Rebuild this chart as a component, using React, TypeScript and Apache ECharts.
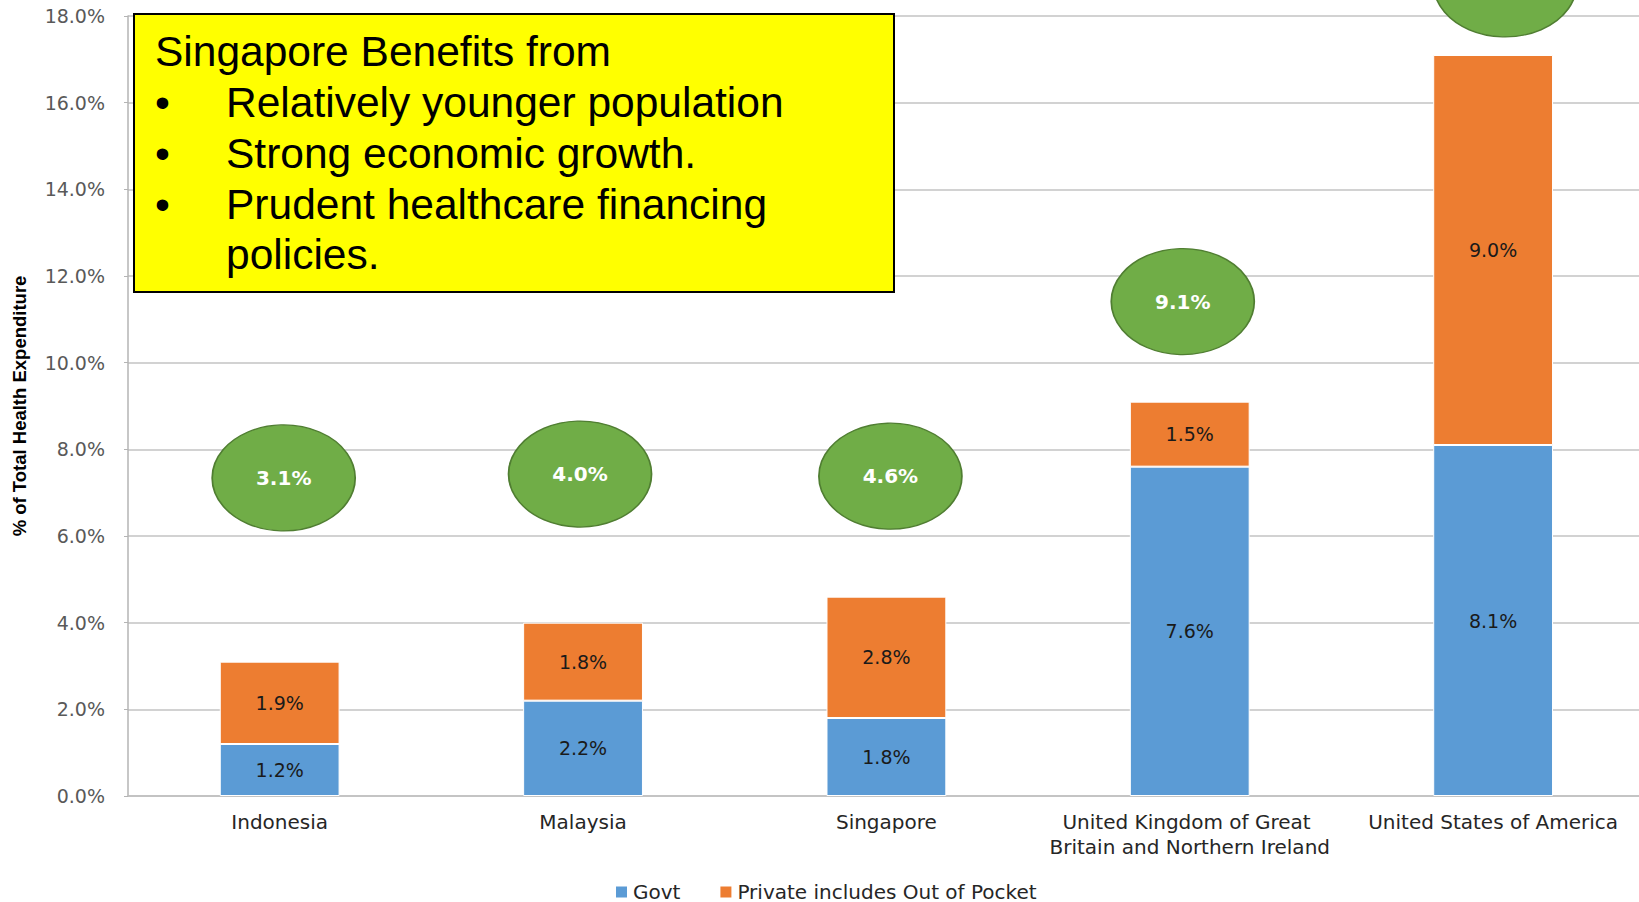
import React, { useEffect, useRef } from "react";
import * as echarts from "echarts";

const categories = [
  "Indonesia",
  "Malaysia",
  "Singapore",
  "United Kingdom of Great Britain and Northern Ireland",
  "United States of America",
];
const govt = [1.2, 2.2, 1.8, 7.6, 8.1];
const privateOOP = [1.9, 1.8, 2.8, 1.5, 9.0];
const totals = [3.1, 4.0, 4.6, 9.1, 17.1];
const bubbleLevels = [7.34, 7.43, 7.38, 11.41, 18.74];
const yTicks = { min: 0, max: 18, interval: 2 };
const noteTitle = "Singapore Benefits from";
const noteBullets = [
  ["•", "Relatively younger population"],
  ["•", "Strong economic growth."],
  ["•", "Prudent healthcare financing"],
  ["", "policies."],
];

// layout-only horizontal nudges of the annotation ellipses (px)
const BUBBLE_NUDGE = [4, -3, 4, -7, 12];

export default function App() {
  const ref = useRef<HTMLDivElement>(null);
  useEffect(() => {
    document.body.style.margin = "0";
    document.body.style.overflow = "hidden";
    document.documentElement.style.overflow = "hidden";
    const chart = echarts.init(ref.current!, undefined, { renderer: "svg" });
    const noteFont = "Liberation Sans, Arial, sans-serif";
    const noteSize = 42.5;
    const lineYs = [51, 102.5, 153.7, 204, 254];
    const noteElements: any[] = [
      {
        type: "rect",
        shape: { x: 134, y: 14, width: 760, height: 278 },
        style: { fill: "#FFFF00", stroke: "#000000", lineWidth: 2 },
        z: 100,
      },
      {
        type: "text",
        x: 155,
        y: lineYs[0],
        style: {
          text: noteTitle,
          font: `${noteSize}px ${noteFont}`,
          fill: "#000",
          textVerticalAlign: "middle",
        },
        z: 101,
      },
    ];
    noteBullets.forEach(([b, t], i) => {
      if (b) {
        noteElements.push({
          type: "text",
          x: 155,
          y: lineYs[i + 1],
          style: { text: b, font: `${noteSize}px ${noteFont}`, fill: "#000", textVerticalAlign: "middle" },
          z: 101,
        });
      }
      noteElements.push({
        type: "text",
        x: 226,
        y: lineYs[i + 1],
        style: { text: t, font: `${noteSize}px ${noteFont}`, fill: "#000", textVerticalAlign: "middle" },
        z: 101,
      });
    });

    const barLabel = {
      show: true,
      position: "inside",
      fontFamily: "DejaVu Sans",
      fontSize: 19,
      color: "#1a1a1a",
      formatter: (p: any) => Number(p.value).toFixed(1) + "%",
    };

    chart.setOption({
      animation: false,
      backgroundColor: "#ffffff",
      grid: { left: 128, top: 16, bottom: 106, right: 0, containLabel: false },
      legend: {
        data: ["Govt", "Private includes Out of Pocket"],
        left: 609,
        top: 877,
        padding: 5,
        itemWidth: 13,
        itemHeight: 13,
        itemGap: 38,
        icon: "rect",
        textStyle: { fontFamily: "DejaVu Sans", fontSize: 20, lineHeight: 18, color: "#262626" },
      },
      xAxis: {
        type: "category",
        data: categories,
        axisLine: { show: true, lineStyle: { color: "#BFBFBF", width: 1.5 } },
        axisTick: { show: false },
        axisLabel: {
          fontFamily: "DejaVu Sans",
          fontSize: 20,
          color: "#262626",
          margin: 13,
          lineHeight: 25,
          width: 300,
          overflow: "break",
          interval: 0,
        },
      },
      yAxis: {
        type: "value",
        min: yTicks.min,
        max: yTicks.max,
        interval: yTicks.interval,
        name: "% of Total Health Expenditure",
        nameLocation: "middle",
        nameRotate: 90,
        nameGap: 99,
        nameTextStyle: {
          fontFamily: "Liberation Sans, Arial, sans-serif",
          fontWeight: "bold",
          fontSize: 18.5,
          color: "#000",
        },
        axisLine: { show: true, lineStyle: { color: "#B4B4B4", width: 1.5 } },
        axisTick: { show: true, length: 4, lineStyle: { color: "#B4B4B4" } },
        axisLabel: {
          fontFamily: "DejaVu Sans",
          fontSize: 19,
          color: "#595959",
          margin: 23,
          formatter: (v: number) => v.toFixed(1) + "%",
        },
        splitLine: { show: true, lineStyle: { color: "#C3C3C3", width: 1.5 } },
      },
      series: [
        {
          name: "Govt",
          type: "bar",
          stack: "total",
          barWidth: "39.5%",
          data: govt,
          itemStyle: { color: "#5B9BD5", borderColor: "#ffffff", borderWidth: 1 },
          label: barLabel,
        },
        {
          name: "Private includes Out of Pocket",
          type: "bar",
          stack: "total",
          data: privateOOP,
          itemStyle: { color: "#ED7D31", borderColor: "#ffffff", borderWidth: 1 },
          label: barLabel,
        },
        {
          name: "Total",
          type: "scatter",
          clip: false,
          symbol: "circle",
          symbolSize: [143, 106],
          data: bubbleLevels.map((lv, i) => ({
            value: [i, lv],
            symbolOffset: [BUBBLE_NUDGE[i], 0],
          })),
          itemStyle: { color: "#70AD47", borderColor: "#507E32", borderWidth: 1.5, opacity: 1 },
          label: {
            show: true,
            position: "inside",
            fontFamily: "DejaVu Sans",
            fontWeight: "bold",
            fontSize: 20,
            color: "#ffffff",
            formatter: (p: any) => totals[p.dataIndex].toFixed(1) + "%",
          },
          z: 5,
        },
      ],
      graphic: noteElements,
    });
    return () => chart.dispose();
  }, []);
  return <div ref={ref} style={{ width: 1646, height: 902 }} />;
}
